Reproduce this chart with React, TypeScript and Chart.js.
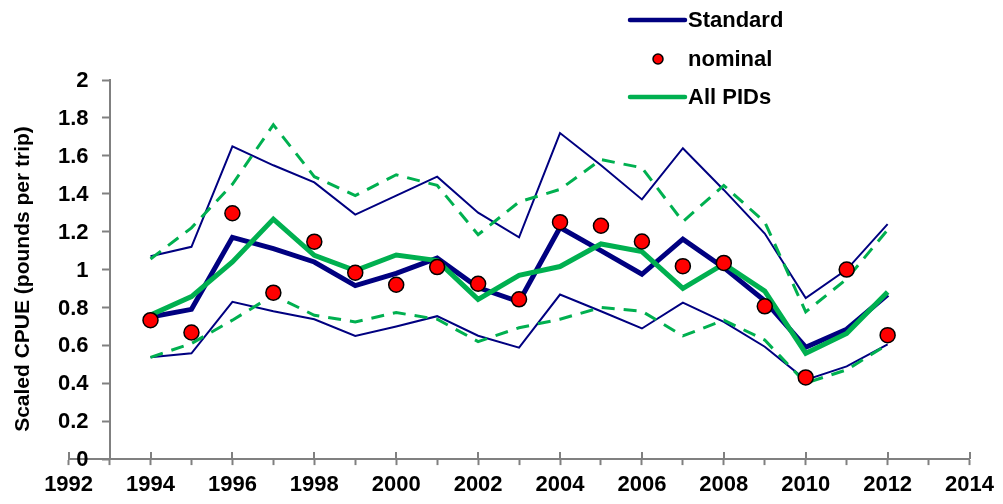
import { useEffect, useRef } from 'react';
import { Chart, registerables } from 'chart.js';

Chart.register(...registerables);

// Survey years and scaled CPUE indices
const years = [1994, 1995, 1996, 1997, 1998, 1999, 2000, 2001, 2002, 2003, 2004, 2005, 2006, 2007, 2008, 2009, 2010, 2011, 2012];
const standard = [0.75, 0.79, 1.17, 1.11, 1.04, 0.915, 0.98, 1.06, 0.905, 0.83, 1.222, 1.1, 0.975, 1.16, 1.01, 0.835, 0.59, 0.685, 0.868];
const standardUpper = [1.07, 1.12, 1.65, 1.55, 1.46, 1.29, 1.39, 1.49, 1.3, 1.17, 1.72, 1.55, 1.37, 1.64, 1.42, 1.19, 0.85, 1.0, 1.24];
const standardLower = [0.537, 0.558, 0.83, 0.78, 0.738, 0.65, 0.7, 0.754, 0.651, 0.588, 0.868, 0.78, 0.689, 0.826, 0.724, 0.593, 0.418, 0.489, 0.605];
const nominal = [0.733, 0.668, 1.297, 0.878, 1.147, 0.983, 0.92, 1.013, 0.925, 0.843, 1.25, 1.231, 1.148, 1.018, 1.035, 0.806, 0.431, 1.0, 0.654];
const allPids = [0.76, 0.857, 1.04, 1.266, 1.075, 0.995, 1.077, 1.047, 0.843, 0.969, 1.016, 1.135, 1.095, 0.901, 1.03, 0.886, 0.558, 0.663, 0.882];
const allPidsUpper = [1.056, 1.22, 1.45, 1.764, 1.49, 1.39, 1.5, 1.444, 1.184, 1.357, 1.423, 1.58, 1.537, 1.253, 1.444, 1.25, 0.777, 0.95, 1.21];
const allPidsLower = [0.537, 0.61, 0.733, 0.865, 0.759, 0.724, 0.773, 0.738, 0.62, 0.693, 0.738, 0.8, 0.78, 0.65, 0.733, 0.628, 0.401, 0.471, 0.605];

// Axis settings
const xMin = 1992;
const xMax = 2014;
const yAxisCrossYear = 1993;
const yMin = 0;
const yMax = 2;
const yStep = 0.2;
const yTitle = 'Scaled CPUE (pounds per trip)';
const legendLabels = ['Standard', 'nominal', 'All PIDs'];

const NAVY = '#000080';
const GREEN = '#00B050';
const RED = '#FF0000';
const AXIS = '#808080';
const FONT = '"Liberation Sans", Arial, sans-serif';

const pts = (vals: number[]) => vals.map((v, i) => ({ x: years[i], y: v }));
const fmtY = (v: number) => String(Number(v.toFixed(1)));

const decorPlugin = {
  id: 'decor',
  afterDraw(chart: any) {
    const { ctx, chartArea, scales } = chart;
    const xs = scales.x;
    const ys = scales.y;
    const axisX = xs.getPixelForValue(yAxisCrossYear);

    // major ticks also rise above the x axis
    ctx.save();
    ctx.strokeStyle = AXIS;
    ctx.lineWidth = 2;
    for (let yr = xMin; yr <= xMax; yr += 2) {
      const px = Math.round(xs.getPixelForValue(yr));
      ctx.beginPath();
      ctx.moveTo(px, chartArea.bottom);
      ctx.lineTo(px, chartArea.bottom - 7);
      ctx.stroke();
    }
    ctx.restore();

    // y tick labels, left of the crossing axis
    ctx.save();
    ctx.font = `bold 22px ${FONT}`;
    ctx.fillStyle = '#000';
    ctx.textAlign = 'right';
    ctx.textBaseline = 'middle';
    ys.ticks.forEach((t: any) => {
      ctx.fillText(fmtY(t.value), axisX - 21, ys.getPixelForValue(t.value) + 1);
    });
    ctx.restore();

    // y axis title
    ctx.save();
    ctx.font = `bold 21px ${FONT}`;
    ctx.fillStyle = '#000';
    ctx.textAlign = 'center';
    ctx.textBaseline = 'middle';
    ctx.translate(23, 279);
    ctx.rotate(-Math.PI / 2);
    ctx.fillText(yTitle, 0, 0);
    ctx.restore();

    // legend
    ctx.save();
    ctx.font = `bold 22px ${FONT}`;
    ctx.textAlign = 'left';
    ctx.textBaseline = 'middle';
    const lx0 = 630;
    const lx1 = 685;
    const tx = 688;
    const rows = [20, 59, 97];

    ctx.lineCap = 'round';
    ctx.strokeStyle = NAVY;
    ctx.lineWidth = 4.5;
    ctx.beginPath();
    ctx.moveTo(lx0, rows[0]);
    ctx.lineTo(lx1, rows[0]);
    ctx.stroke();

    ctx.beginPath();
    ctx.arc((lx0 + lx1) / 2 + 0.5, rows[1], 5, 0, Math.PI * 2);
    ctx.fillStyle = RED;
    ctx.fill();
    ctx.lineWidth = 1.5;
    ctx.strokeStyle = '#000';
    ctx.stroke();

    ctx.strokeStyle = GREEN;
    ctx.lineWidth = 4.5;
    ctx.beginPath();
    ctx.moveTo(lx0, rows[2]);
    ctx.lineTo(lx1, rows[2]);
    ctx.stroke();

    ctx.fillStyle = '#000';
    legendLabels.forEach((t, i) => ctx.fillText(t, tx, rows[i] + 1));
    ctx.restore();
  },
};

export default function App() {
  const canvasRef = useRef<HTMLCanvasElement | null>(null);

  useEffect(() => {
    const canvas = canvasRef.current;
    if (!canvas) return;

    const chart = new Chart(canvas, {
      type: 'line',
      data: {
        datasets: [
          {
            label: 'nominal',
            data: pts(nominal),
            showLine: false,
            pointRadius: 7.5,
            pointBackgroundColor: RED,
            pointBorderColor: '#000',
            pointBorderWidth: 1.5,
            order: 0,
          },
          {
            label: 'All PIDs',
            data: pts(allPids),
            borderColor: GREEN,
            borderWidth: 5,
            pointRadius: 0,
            order: 1,
          },
          {
            label: 'Standard',
            data: pts(standard),
            borderColor: NAVY,
            borderWidth: 5,
            pointRadius: 0,
            order: 2,
          },
          {
            label: 'All PIDs upper',
            data: pts(allPidsUpper),
            borderColor: GREEN,
            borderWidth: 3,
            borderDash: [13, 9],
            pointRadius: 0,
            order: 3,
          },
          {
            label: 'All PIDs lower',
            data: pts(allPidsLower),
            borderColor: GREEN,
            borderWidth: 3,
            borderDash: [13, 9],
            pointRadius: 0,
            order: 3,
          },
          {
            label: 'Standard upper',
            data: pts(standardUpper),
            borderColor: NAVY,
            borderWidth: 2,
            pointRadius: 0,
            order: 4,
          },
          {
            label: 'Standard lower',
            data: pts(standardLower),
            borderColor: NAVY,
            borderWidth: 2,
            pointRadius: 0,
            order: 4,
          },
        ],
      },
      options: {
        responsive: false,
        animation: false,
        layout: { padding: { left: 68.6, right: 3, top: 80, bottom: 0 } },
        plugins: {
          legend: { display: false },
          tooltip: { enabled: false },
          title: { display: false },
        },
        elements: { line: { tension: 0, fill: false } },
        scales: {
          x: {
            type: 'linear',
            min: xMin,
            max: xMax,
            grid: {
              drawOnChartArea: false,
              tickLength: 6,
              tickColor: AXIS,
              tickWidth: 2,
            },
            border: { color: AXIS, width: 2 },
            ticks: {
              stepSize: 1,
              autoSkip: false,
              maxRotation: 0,
              padding: 9,
              color: '#000',
              font: { family: FONT, size: 22, weight: 'bold', lineHeight: 0.95 },
              callback: (v: any) => (Number(v) % 2 === 0 ? String(v) : ''),
            },
          },
          y: {
            type: 'linear',
            position: { x: yAxisCrossYear } as any,
            min: yMin,
            max: yMax,
            grid: {
              drawOnChartArea: false,
              tickLength: 7,
              tickColor: AXIS,
              tickWidth: 2,
            },
            border: { color: AXIS, width: 2 },
            ticks: {
              stepSize: yStep,
              display: false,
            },
          },
        },
      },
      plugins: [decorPlugin],
    });

    return () => chart.destroy();
  }, []);

  return (
    <div style={{ position: 'absolute', left: 0, top: 0, width: 1003, height: 504, background: '#fff' }}>
      <canvas ref={canvasRef} width={1003} height={504} />
    </div>
  );
}
